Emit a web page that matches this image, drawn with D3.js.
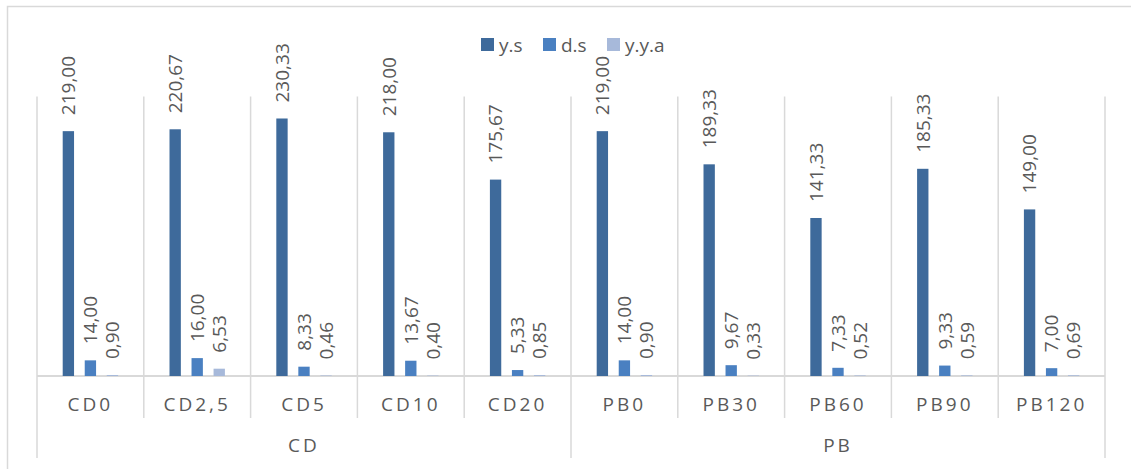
<!DOCTYPE html>
<html>
<head>
<meta charset="utf-8">
<script src="https://cdn.jsdelivr.net/npm/d3@7"></script>
<style>
  body { margin: 0; background: #fff; }
  text { font-family: "Open Sans", sans-serif; fill: #595959; }
</style>
</head>
<body>
<script>
// categories + groups
var categories = ["CD0", "CD2,5", "CD5", "CD10", "CD20", "PB0", "PB30", "PB60", "PB90", "PB120"]
var groupNames = ["CD", "PB"]
var groupOf = ["CD", "CD", "CD", "CD", "CD", "PB", "PB", "PB", "PB", "PB"]

// series values
var seriesNames = ["y.s", "d.s", "y.y.a"]
var ysValues = [219.00, 220.67, 230.33, 218.00, 175.67, 219.00, 189.33, 141.33, 185.33, 149.00]
var dsValues = [14.00, 16.00, 8.33, 13.67, 5.33, 14.00, 9.67, 7.33, 9.33, 7.00]
var yyaValues = [0.90, 6.53, 0.46, 0.40, 0.85, 0.90, 0.33, 0.52, 0.59, 0.69]

var colors = ["#3E6A9B", "#4A80C1", "#A7B9DA"]

// build rows for the chart
var data = categories.map(function(c, i) {
  return { cat: c, group: groupOf[i], "y.s": ysValues[i], "d.s": dsValues[i], "y.y.a": yyaValues[i] }
})

var W = 1131, H = 469
var svg = d3.select("body").append("svg")
  .attr("width", W).attr("height", H)

// outer chart border (runs off the right / bottom)
svg.append("rect")
  .attr("x", 7.5).attr("y", 6.5)
  .attr("width", 1200).attr("height", 600)
  .attr("fill", "none").attr("stroke", "#D9D9D9").attr("stroke-width", 1.5)

var left = 37, right = 1105, base = 376

var x0 = d3.scaleBand().domain(categories).range([left, right]).padding(0)
var x1 = d3.scaleBand().domain(seriesNames).range([0, x0.bandwidth()])
  .paddingInner(0.485).paddingOuter(1.167)
var y = d3.scaleLinear().domain([0, 250]).range([base, 96.5])

var fmt = function(v) { return d3.format(".2f")(v).replace(".", ",") }
var lineCol = "#D9D9D9"

// category dividers
var edges = categories.map(function(c) { return x0(c) }).concat([right])
svg.append("g").selectAll("line")
  .data(edges)
  .enter().append("line")
  .attr("x1", function(d) { return d }).attr("x2", function(d) { return d })
  .attr("y1", y(250))
  .attr("y2", function(d, i) {
    // group boundaries run down past the group labels
    if (i == 0 || i == edges.length - 1 || categories[i] == "PB0") return 458
    return 418
  })
  .attr("stroke", lineCol).attr("stroke-width", 1.5)

// baseline
svg.append("line")
  .attr("x1", left).attr("x2", right)
  .attr("y1", base).attr("y2", base)
  .attr("stroke", lineCol).attr("stroke-width", 2)

// bars
var groups = svg.append("g").selectAll("g")
  .data(data).enter().append("g")
  .attr("transform", function(d) { return "translate(" + x0(d.cat) + ",0)" })

groups.selectAll("rect")
  .data(function(d) { return seriesNames.map(function(k, j) { return { key: k, v: d[k], j: j } }) })
  .enter().append("rect")
  .attr("x", function(d) { return x1(d.key) })
  .attr("y", function(d) { return y(d.v) })
  .attr("width", x1.bandwidth())
  .attr("height", function(d) { return base - y(d.v) })
  .attr("fill", function(d) { return colors[d.j] })

// value labels, rotated
groups.selectAll("text")
  .data(function(d) { return seriesNames.map(function(k) { return { key: k, v: d[k] } }) })
  .enter().append("text")
  .attr("transform", function(d) {
    return "translate(" + (x1(d.key) + x1.bandwidth() / 2) + "," + (y(d.v) - 16) + ") rotate(-90)"
  })
  .attr("dy", "0.36em")
  .style("font-size", "19px")
  .text(function(d) { return fmt(d.v) })

// category axis
var xAxis = svg.append("g")
  .attr("transform", "translate(0," + base + ")")
  .call(d3.axisBottom(x0).tickSize(0).tickPadding(0))
xAxis.select(".domain").remove()
xAxis.selectAll("text")
  .attr("y", 35).attr("dy", 0)
  .style("font-size", "19px")
  .style("letter-spacing", "3px")
  .attr("fill", "#595959")

// group labels
var groupX = d3.scalePoint().domain(groupNames).range([
  (x0("CD0") + x0("CD20") + x0.bandwidth()) / 2,
  (x0("PB0") + x0("PB120") + x0.bandwidth()) / 2
])
svg.append("g").selectAll("text")
  .data(groupNames).enter().append("text")
  .attr("x", function(d) { return groupX(d) })
  .attr("y", 452)
  .attr("text-anchor", "middle")
  .style("font-size", "19px")
  .style("letter-spacing", "3px")
  .text(function(d) { return d })

// legend
var legendX = [481, 543, 607]
var legend = svg.append("g").selectAll("g")
  .data(seriesNames).enter().append("g")
  .attr("transform", function(d, i) { return "translate(" + legendX[i] + ",38)" })
legend.append("rect")
  .attr("width", 13).attr("height", 13)
  .attr("fill", function(d, i) { return colors[i] })
legend.append("text")
  .attr("x", 18).attr("y", 14)
  .style("font-size", "19px")
  .text(function(d) { return d })
</script>
</body>
</html>
